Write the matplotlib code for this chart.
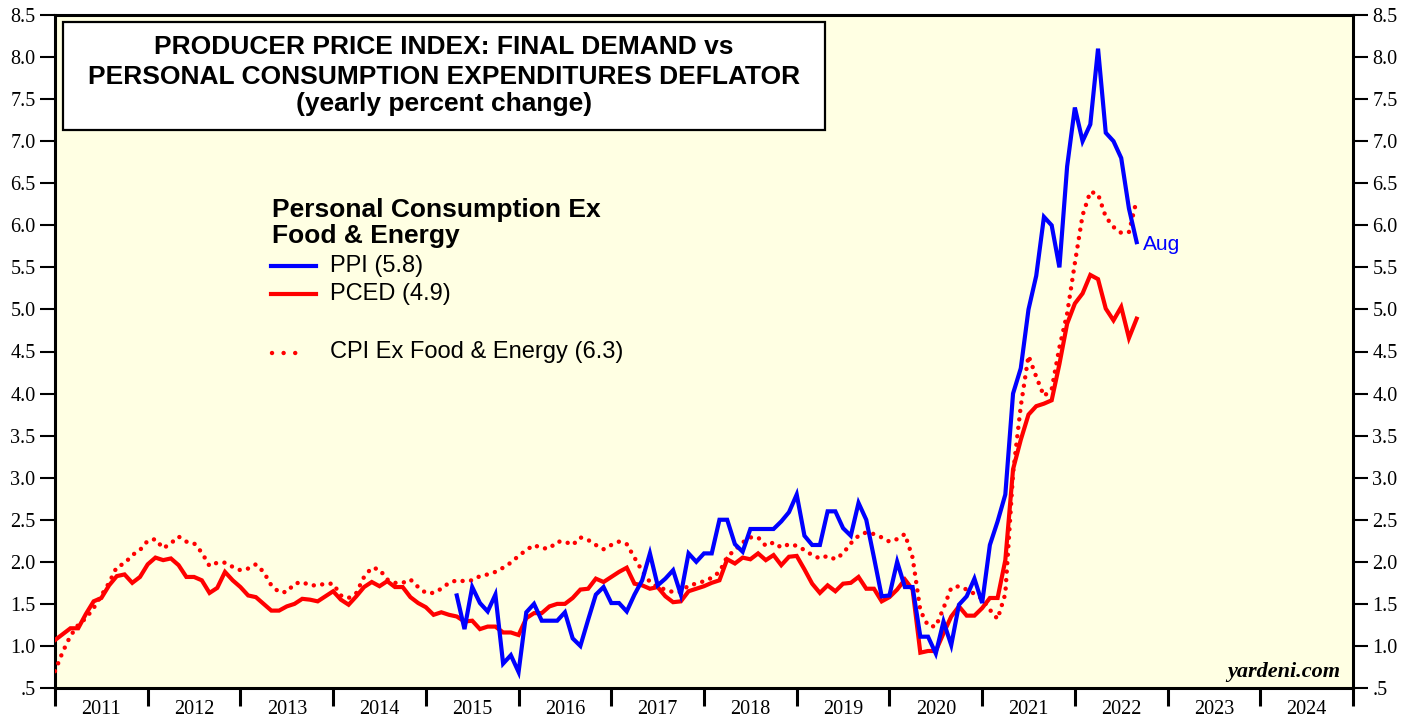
import matplotlib
matplotlib.use('Agg')
import matplotlib.pyplot as plt
from matplotlib.patches import Rectangle
from matplotlib.lines import Line2D
import numpy as np

# yearly percent change, monthly
# core PCE deflator, Dec 2010 .. Aug 2022
pced_start = (2010, 12)
pced = [
    1.07,
    1.14, 1.21, 1.21, 1.38, 1.53, 1.57, 1.72, 1.83, 1.85, 1.75, 1.82, 1.97,
    2.05, 2.02, 2.04, 1.96, 1.82, 1.82, 1.78, 1.63, 1.69, 1.88, 1.78, 1.70,
    1.60, 1.58, 1.50, 1.42, 1.42, 1.47, 1.50, 1.56, 1.55, 1.53, 1.59, 1.65,
    1.55, 1.49, 1.59, 1.70, 1.76, 1.71, 1.77, 1.70, 1.70, 1.58, 1.51, 1.46,
    1.37, 1.40, 1.37, 1.35, 1.29, 1.30, 1.20, 1.23, 1.23, 1.16, 1.16, 1.13,
    1.33, 1.39, 1.39, 1.47, 1.50, 1.50, 1.57, 1.67, 1.68, 1.80, 1.76, 1.82,
    1.88, 1.93, 1.74, 1.72, 1.68, 1.70, 1.59, 1.52, 1.53, 1.65, 1.68, 1.71,
    1.75, 1.78, 2.03, 1.98, 2.05, 2.03, 2.10, 2.02, 2.08, 1.96, 2.06, 2.07,
    1.91, 1.74, 1.63, 1.72, 1.65, 1.74, 1.75, 1.82, 1.68, 1.68, 1.53, 1.58,
    1.67, 1.79, 1.67, 0.92, 0.94, 0.94, 1.15, 1.35, 1.47, 1.36, 1.36, 1.45,
    1.57, 1.57, 2.02, 3.10, 3.45, 3.75, 3.85, 3.88, 3.92, 4.35, 4.83, 5.07,
    5.19, 5.41, 5.36, 5.01, 4.87, 5.03, 4.66, 4.89,
]

# core CPI, Dec 2010 .. Aug 2022
cpi_start = (2010, 12)
cpi_core = [
    0.70,
    0.93, 1.12, 1.25, 1.33, 1.45, 1.60, 1.75, 1.94, 1.98, 2.08, 2.14, 2.25,
    2.27, 2.16, 2.22, 2.30, 2.24, 2.22, 2.11, 1.95, 1.99, 1.99, 1.94, 1.90,
    1.92, 1.97, 1.88, 1.72, 1.64, 1.64, 1.74, 1.76, 1.72, 1.72, 1.74, 1.74,
    1.60, 1.57, 1.63, 1.82, 1.93, 1.91, 1.79, 1.75, 1.75, 1.79, 1.70, 1.63,
    1.63, 1.68, 1.75, 1.78, 1.77, 1.78, 1.83, 1.85, 1.88, 1.93, 1.99, 2.07,
    2.14, 2.20, 2.16, 2.16, 2.24, 2.24, 2.20, 2.29, 2.26, 2.20, 2.15, 2.20,
    2.24, 2.21, 2.05, 1.89, 1.76, 1.70, 1.67, 1.64, 1.64, 1.72, 1.74, 1.77,
    1.81, 1.88, 2.06, 2.14, 2.23, 2.29, 2.29, 2.19, 2.23, 2.17, 2.21, 2.19,
    2.14, 2.08, 2.04, 2.07, 2.03, 2.10, 2.22, 2.31, 2.35, 2.33, 2.29, 2.24,
    2.27, 2.33, 2.05, 1.42, 1.24, 1.23, 1.45, 1.69, 1.71, 1.67, 1.62, 1.56,
    1.43, 1.32, 1.62, 3.05, 3.85, 4.45, 4.20, 3.97, 4.05, 4.55, 4.95, 5.55,
    6.12, 6.40, 6.37, 6.10, 5.98, 5.91, 5.92, 6.30,
]

# PPI personal consumption ex food & energy, Apr 2015 .. Aug 2022
ppi_start = (2015, 4)
ppi = [
    1.60, 1.20, 1.70, 1.51, 1.41, 1.61, 0.79, 0.89, 0.69,
    1.40, 1.50, 1.30, 1.30, 1.30, 1.40, 1.09, 1.00, 1.31, 1.61, 1.70, 1.51,
    1.51, 1.41, 1.61, 1.78, 2.10, 1.72, 1.80, 1.90, 1.61, 2.10, 2.00, 2.10,
    2.10, 2.50, 2.50, 2.21, 2.12, 2.39, 2.39, 2.39, 2.39, 2.48, 2.59, 2.80,
    2.31, 2.20, 2.20, 2.60, 2.60, 2.40, 2.31, 2.70, 2.50, 2.05, 1.59, 1.60,
    2.00, 1.70, 1.70, 1.11, 1.11, 0.91, 1.29, 1.01, 1.49, 1.59, 1.80, 1.51,
    2.20, 2.48, 2.80, 4.00, 4.30, 5.00, 5.40, 6.10, 6.00, 5.50, 6.70, 7.40,
    7.00, 7.20, 8.10, 7.10, 7.00, 6.80, 6.20, 5.80,
]

legend_title = ['Personal Consumption Ex', 'Food & Energy']
legend_labels = ['PPI (5.8)', 'PCED (4.9)', 'CPI Ex Food & Energy (6.3)']
title_lines = ['PRODUCER PRICE INDEX: FINAL DEMAND vs',
               'PERSONAL CONSUMPTION EXPENDITURES DEFLATOR',
               '(yearly percent change)']
years = list(range(2011, 2025))
y_ticks = np.arange(0.5, 8.51, 0.5)

BLUE = '#0000ff'
RED = '#ff0000'
SANS = 'Liberation Sans'
SERIF = 'Liberation Serif'


def month_axis(start, n):
    # plot each month at its month end
    y, m = start
    return [y + (m + i) / 12 for i in range(n)]


W, H = 1417, 719
fig = plt.figure(figsize=(W / 100, H / 100), dpi=100)
ax = fig.add_axes([55 / W, 1 - 688 / H, (1353 - 55) / W, (688 - 15) / H])
ax.set_facecolor('#ffffe3')


def ftext(x, y, s, **kw):
    # text placed in figure pixels, y from top
    return fig.text(x / W, 1 - y / H, s, **kw)


ax.plot(month_axis(cpi_start, len(cpi_core)), cpi_core, color=RED, lw=3.2,
        linestyle=(0, (0.01, 1.9)), dash_capstyle='round', zorder=3)
ax.plot(month_axis(pced_start, len(pced)), pced, color=RED, lw=3, zorder=4,
        solid_joinstyle='miter')
ax.plot(month_axis(ppi_start, len(ppi)), ppi, color=BLUE, lw=3, zorder=5,
        solid_joinstyle='miter')

ax.set_xlim(2011, 2025)
ax.set_ylim(0.5, 8.5)

# y axis on both sides
ax.set_yticks(y_ticks)
ax.set_yticklabels(['.5' if v == 0.5 else f'{v:.1f}' for v in y_ticks])
ax.tick_params(axis='y', direction='out', length=11, width=1.5,
               left=True, right=True, labelleft=True, labelright=True,
               labelsize=14.5, pad=3)

# year boundaries as ticks, year labels in between
ax.set_xticks(np.arange(2011, 2026))
ax.set_xticklabels([])
ax.set_xticks(np.arange(2011.5, 2025), minor=True)
ax.set_xticklabels([str(y) for y in years], minor=True)
ax.tick_params(axis='x', which='major', direction='out', length=13, width=2.2)
ax.tick_params(axis='x', which='minor', length=0, pad=9, labelsize=14.5)

for lab in ax.get_xticklabels(minor=True):
    lab.set_fontfamily(SERIF)
for t in ax.yaxis.get_major_ticks():
    t.label1.set_fontfamily(SERIF)
    t.label2.set_fontfamily(SERIF)

for sp in ax.spines.values():
    sp.set_linewidth(2.2)
    sp.set_color('black')

# title box
box = Rectangle((63 / W, 1 - 130 / H), (825 - 63) / W, (130 - 22) / H,
                transform=fig.transFigure, facecolor='white', edgecolor='black',
                lw=1.6, zorder=6)
fig.patches.append(box)
for line, yy in zip(title_lines, [47, 77, 104]):
    ftext(444, yy, line, ha='center', va='center', fontsize=19,
          fontweight='bold', family=SANS, zorder=7)

# legend
for line, yy in zip(legend_title, [210, 236]):
    ftext(272, yy, line, ha='left', va='center', fontsize=19,
          fontweight='bold', family=SANS)
fig.add_artist(Line2D([271 / W, 316 / W], [1 - 266 / H] * 2, color=BLUE, lw=3))
fig.add_artist(Line2D([271 / W, 316 / W], [1 - 294 / H] * 2, color=RED, lw=3))
fig.add_artist(Line2D([272 / W, 306 / W], [1 - 353 / H] * 2, color=RED, lw=3.2,
                      linestyle=(0, (0.01, 2.6)), dash_capstyle='round'))
for lab, yy in zip(legend_labels, [266, 294, 352]):
    ftext(330, yy, lab, ha='left', va='center', fontsize=17, family=SANS)

ftext(1143, 244, 'Aug', ha='left', va='center', fontsize=15, family=SANS,
      color=BLUE)
ftext(1340, 672, 'yardeni.com', ha='right', va='center', fontsize=16,
      family=SERIF, fontweight='bold', fontstyle='italic')

fig.savefig('out.png', dpi=100, facecolor='white')
